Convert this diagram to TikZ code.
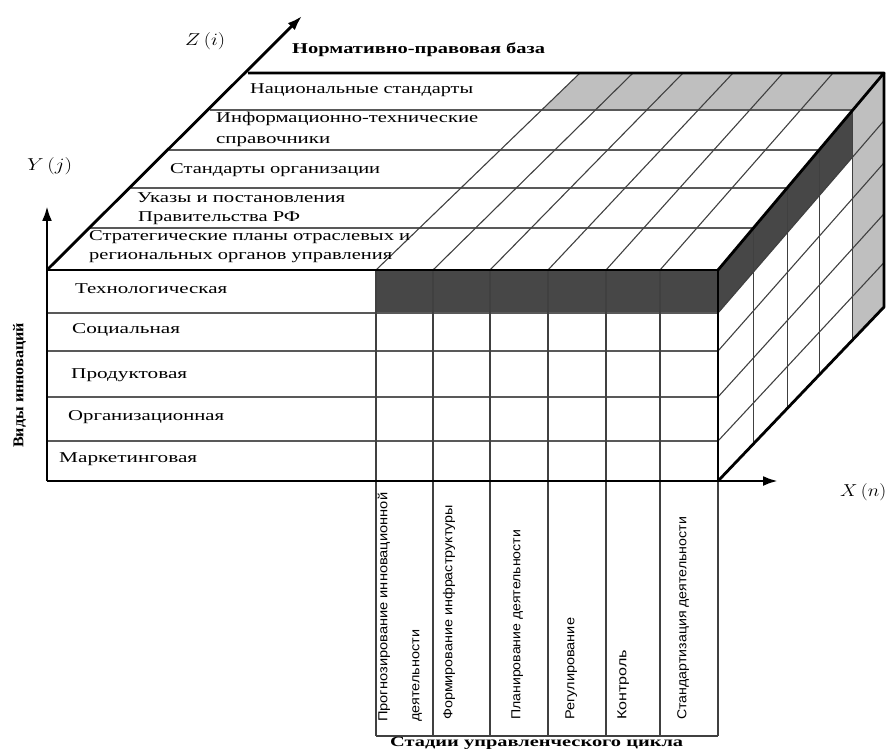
\documentclass[tikz,border=0pt]{standalone}
\usepackage{fontspec}
\setmainfont{Liberation Serif}
\newfontfamily\sansf{Liberation Sans}
\usepackage{graphicx}
\usetikzlibrary{arrows.meta}
\newcommand\fw[2]{\resizebox{#1pt}{\height}{#2}}
\begin{document}
\begin{tikzpicture}[x=1pt,y=-1pt,
  thickln/.style={line width=2.8pt, black, line join=round},
  thinln/.style={line width=1.1pt, black!75},
  rowln/.style={line width=1.3pt, black!65},
  lbl/.style={inner sep=0pt, anchor=mid west, font=\fontsize{15}{18}\selectfont},
  blbl/.style={inner sep=0pt, anchor=mid west, font=\fontsize{15}{18}\selectfont\bfseries},
  vlbl/.style={inner sep=0pt, anchor=mid west, rotate=90, font=\sansf\fontsize{13}{16}\selectfont},
  axarrow/.style={line width=2.8pt, black, -{Latex[length=15pt,width=10pt]}},
  darkfill/.style={fill=black!72},
  lightfill/.style={fill=black!25}]
\path[use as bounding box] (0,0) rectangle (888,751);
% corners
\coordinate (FTL) at (47,270);
\coordinate (FTR) at (718,270);
\coordinate (FBL) at (47,481);
\coordinate (FBR) at (718,481);
\coordinate (TBL) at (248,73);
\coordinate (TBR) at (884,73);
\coordinate (RBB) at (884,307);
\coordinate (Xend) at (778,481);
\coordinate (Yend) at (47,206);
\coordinate (Zend) at (302,16);
% fills
\fill[darkfill] (376,270) rectangle (718,313);
\fill[darkfill] (718,270) -- (852.8,110) -- (852.8,156.8) -- (718,313) -- cycle;
\fill[lightfill] (852.8,110) -- (TBR) -- (RBB) -- (852.8,339.7) -- cycle;
\fill[lightfill] (542,110) -- (580,73) -- (TBR) -- (852.8,110) -- cycle;
% top face rows
\draw[rowln] (210.2,110) -- (852.8,110);
\draw[rowln] (169.4,150) -- (819.1,150);
\draw[rowln] (130.7,188) -- (787.1,188);
\draw[rowln] (89.9,228) -- (753.4,228);
% top face diagonals
\foreach \a/\b in {376/580,433/633,490/683,548/733,606/783,660/833}
  \draw[thinln] (\a,270) -- (\b,73);
% right face verticals
\foreach \a/\b/\c in {753.4/228/443.9,787.1/188/408.6,819.1/150/375.0,852.8/110/339.7}
  \draw[thinln] (\a,\b) -- (\a,\c);
% right face diagonals
\foreach \a/\b in {313/120.7,351/162.8,397/213.8,441/262.6}
  \draw[thinln] (718,\a) -- (884,\b);
% front face rows
\foreach \r in {313,351,397,441}
  \draw[rowln] (47,\r) -- (718,\r);
% columns (front face + lower table)
\foreach \c in {376,433,490,548,606,660}
  \draw[thinln] (\c,270) -- (\c,736);
\draw[thinln] (718,481) -- (718,736);
\draw[thinln] (376,736) -- (718,736);
% thick outlines
\draw[thickln] (FTL) -- (FTR) -- (FBR);
\draw[thickln] (TBL) -- (TBR) -- (FTR);
\draw[thickln] (TBR) -- (RBB) -- (FBR);
% axes
\draw[axarrow] (FBL) -- (Xend);
\draw[axarrow] (FBL) -- (Yend);
\draw[axarrow] (FTL) -- (Zend);
% axis labels
\node[inner sep=0pt, anchor=mid west, font=\fontsize{16}{18}\selectfont] (zl) at (185,43) {\fw{40}{$Z\,(i)$}};
\node[inner sep=0pt, anchor=mid west, font=\fontsize{16}{18}\selectfont] (yl) at (27,168) {\fw{45}{$Y\,(j)$}};
\node[inner sep=0pt, anchor=mid west, font=\fontsize{16}{18}\selectfont] (xl) at (840,494) {\fw{46}{$X\,(n)$}};
% top texts
\node[blbl] (t0) at (292,51) {\fw{253}{Нормативно-правовая база}};
\node[lbl] (t1) at (250,91) {\fw{223}{Национальные стандарты}};
\node[lbl] (t2a) at (216,120) {\fw{262}{Информационно-технические}};
\node[lbl] (t2b) at (216,141) {\fw{114}{справочники}};
\node[lbl] (t3) at (170,171) {\fw{210}{Стандарты организации}};
\node[lbl] (t4a) at (137,200) {\fw{208}{Указы и постановления}};
\node[lbl] (t4b) at (138,219) {\fw{162}{Правительства РФ}};
\node[lbl] (t5a) at (89,238) {\fw{321}{Стратегические планы отраслевых и}};
\node[lbl] (t5b) at (89,257) {\fw{303}{региональных органов управления}};
% front texts
\node[lbl] (f1) at (75,291) {\fw{152}{Технологическая}};
\node[lbl] (f2) at (72,331) {\fw{108}{Социальная}};
\node[lbl] (f3) at (71,376) {\fw{116}{Продуктовая}};
\node[lbl] (f4) at (68,418) {\fw{156}{Организационная}};
\node[lbl] (f5) at (59,460) {\fw{138}{Маркетинговая}};
\node[inner sep=0pt, anchor=mid west, rotate=90, font=\fontsize{15}{16}\selectfont\bfseries] (vi) at (21,448) {\fw{125}{Виды инноваций}};
% bottom texts
\node[vlbl] (b1a) at (385,722) {\fw{229}{Прогнозирование инновационной}};
\node[vlbl] (b1b) at (417,722) {\fw{92}{деятельности}};
\node[vlbl] (b2) at (450,720) {\fw{215}{Формирование инфраструктуры}};
\node[vlbl] (b3) at (518,720) {\fw{190}{Планирование деятельности}};
\node[vlbl] (b4) at (572,720) {\fw{102}{Регулирование}};
\node[vlbl] (b5) at (624,720) {\fw{70}{Контроль}};
\node[vlbl] (b6) at (684,720) {\fw{203}{Стандартизация деятельности}};
\node[inner sep=0pt, anchor=mid west, font=\fontsize{14}{16}\selectfont\bfseries] (bt) at (390,744) {\fw{293}{Стадии управленческого цикла}};
\end{tikzpicture}
\end{document}
